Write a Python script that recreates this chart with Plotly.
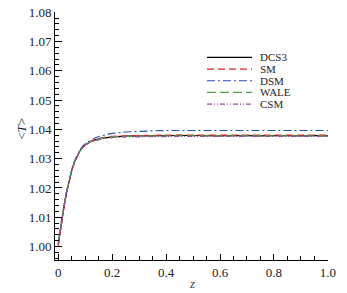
import plotly.graph_objects as go

z = [0, 0.005, 0.01, 0.02, 0.03, 0.04, 0.05, 0.06, 0.07, 0.08, 0.09, 0.10, 0.12, 0.14, 0.16,
     0.18, 0.20, 0.25, 0.30, 0.35, 0.40, 0.45, 0.50, 0.55, 0.60, 0.65, 0.70, 0.75, 0.80,
     0.85, 0.90, 0.95, 1.0]

dcs3 = [1.0005, 1.0040, 1.0070, 1.0128, 1.0180, 1.0224, 1.0260, 1.0288, 1.0310, 1.0326, 1.0338,
        1.0347, 1.0358, 1.0365, 1.0369, 1.0372, 1.0374, 1.0377, 1.0378, 1.0378, 1.0379, 1.0379,
        1.0379, 1.0378, 1.0378, 1.0379, 1.0378, 1.0378, 1.0379, 1.0378, 1.0378, 1.0379, 1.0378]
sm = [1.0003, 1.0038, 1.0069, 1.0127, 1.0180, 1.0224, 1.0259, 1.0287, 1.0309, 1.0326, 1.0338,
      1.0347, 1.0359, 1.0366, 1.0371, 1.0374, 1.0376, 1.0378, 1.0379, 1.0380, 1.0380, 1.0381,
      1.0380, 1.0380, 1.0381, 1.0380, 1.0380, 1.0381, 1.0380, 1.0380, 1.0381, 1.0380, 1.0380]
dsm = [1.0015, 1.0048, 1.0077, 1.0134, 1.0185, 1.0228, 1.0263, 1.0291, 1.0313, 1.0330, 1.0342,
       1.0351, 1.0363, 1.0372, 1.0378, 1.0383, 1.0386, 1.0391, 1.0394, 1.0395, 1.0396, 1.0396,
       1.0397, 1.0396, 1.0396, 1.0397, 1.0396, 1.0396, 1.0397, 1.0396, 1.0396, 1.0397, 1.0396]
wale = [1.0008, 1.0042, 1.0072, 1.0130, 1.0182, 1.0226, 1.0261, 1.0289, 1.0311, 1.0327, 1.0339,
        1.0348, 1.0358, 1.0365, 1.0369, 1.0372, 1.0374, 1.0376, 1.0377, 1.0377, 1.0378, 1.0378,
        1.0378, 1.0377, 1.0378, 1.0378, 1.0377, 1.0378, 1.0378, 1.0377, 1.0378, 1.0378, 1.0377]
csm = [1.0006, 1.0040, 1.0071, 1.0129, 1.0181, 1.0225, 1.0260, 1.0288, 1.0310, 1.0326, 1.0338,
       1.0347, 1.0357, 1.0363, 1.0367, 1.0370, 1.0372, 1.0374, 1.0375, 1.0376, 1.0376, 1.0376,
       1.0376, 1.0376, 1.0376, 1.0376, 1.0376, 1.0376, 1.0376, 1.0376, 1.0376, 1.0376, 1.0376]

names = ["DCS3", "SM", "DSM", "WALE", "CSM"]
series = [dcs3, sm, dsm, wale, csm]
colors = ["#000000", "#e0202a", "#2f4fae", "#45a845", "#9a4f98"]
dashes = ["solid", "7px,4px", "8px,3px,2px,3px", "9px,4px", "5px,2px,1px,2px,1px,2px"]

x_ticks = [0, 0.2, 0.4, 0.6, 0.8, 1.0]
x_labels = ["0", "0.2", "0.4", "0.6", "0.8", "1.0"]
y_ticks = [1.00, 1.01, 1.02, 1.03, 1.04, 1.05, 1.06, 1.07, 1.08]
y_labels = ["1.00", "1.01", "1.02", "1.03", "1.04", "1.05", "1.06", "1.07", "1.08"]

SERIF = "Liberation Serif, Times New Roman, serif"

fig = go.Figure()
for n, s, c, d in zip(names, series, colors, dashes):
    fig.add_trace(go.Scatter(x=z, y=s, mode="lines", name=n,
                             line=dict(color=c, width=1.2, dash=d), showlegend=False))

W, H = 347, 293
# target plot box in window pixels: x 55..328, y 12..260.5
ml, mt = 55, 12
mr = W - 328
mb = H - 260.5
pw, ph = W - ml - mr, H - mt - mb


def px(xw):
    return (xw - ml) / pw


def py(yw):
    return 1 - (yw - mt) / ph


leg_y = [57.5, 69.2, 80.9, 92.6, 104.3]
shapes = []
annotations = []
for n, c, d, yp in zip(names, colors, dashes, leg_y):
    yy = py(yp)
    shapes.append(dict(type="line", xref="paper", yref="paper", x0=px(207), x1=px(252), y0=yy, y1=yy,
                       line=dict(color=c, width=1.2, dash=d)))
    annotations.append(dict(xref="paper", yref="paper", x=px(258), y=yy, text=n,
                            showarrow=False, xanchor="left", yanchor="middle",
                            font=dict(family=SERIF, size=11, color="#222")))

annotations.append(dict(xref="paper", yref="paper", x=px(191.5), y=py(284), text="<i>z</i>",
                        showarrow=False, xanchor="center", yanchor="middle",
                        font=dict(family=SERIF, size=13, color="#444")))
annotations.append(dict(xref="paper", yref="paper", x=px(22), y=py(129),
                        text="&lt;<i>T</i>&gt;", textangle=-90,
                        showarrow=False, xanchor="center", yanchor="middle",
                        font=dict(family=SERIF, size=13, color="#222")))

fig.update_layout(
    width=W, height=H,
    margin=dict(l=ml, r=mr, t=mt, b=mb, autoexpand=False),
    paper_bgcolor="white", plot_bgcolor="white",
    shapes=shapes, annotations=annotations,
    font=dict(family=SERIF, size=12, color="#222"),
)
fig.update_xaxes(range=[-0.012, 1.0005], tickvals=x_ticks, ticktext=x_labels,
                 showgrid=False, zeroline=False, showline=True, linecolor="black", linewidth=1,
                 ticks="inside", ticklen=6, tickwidth=1, tickcolor="black", ticklabeloverflow="allow",
                 minor=dict(dtick=0.05, tick0=0, ticks="inside", ticklen=4, tickwidth=1, tickcolor="black", showgrid=False),
                 tickfont=dict(family=SERIF, size=13, color="#222"))
fig.update_yaxes(range=[0.99541, 1.08005], tickvals=y_ticks, ticktext=y_labels,
                 showgrid=False, zeroline=False, showline=True, linecolor="black", linewidth=1,
                 ticks="inside", ticklen=7, tickwidth=1, tickcolor="black", ticklabeloverflow="allow",
                 minor=dict(dtick=0.002, tick0=1.0, ticks="inside", ticklen=4, tickwidth=1, tickcolor="black", showgrid=False),
                 tickfont=dict(family=SERIF, size=13, color="#222"))

fig.write_html("out.html", config={"displayModeBar": False},
               post_script="document.body.style.margin='0';document.body.style.overflow='hidden';")
